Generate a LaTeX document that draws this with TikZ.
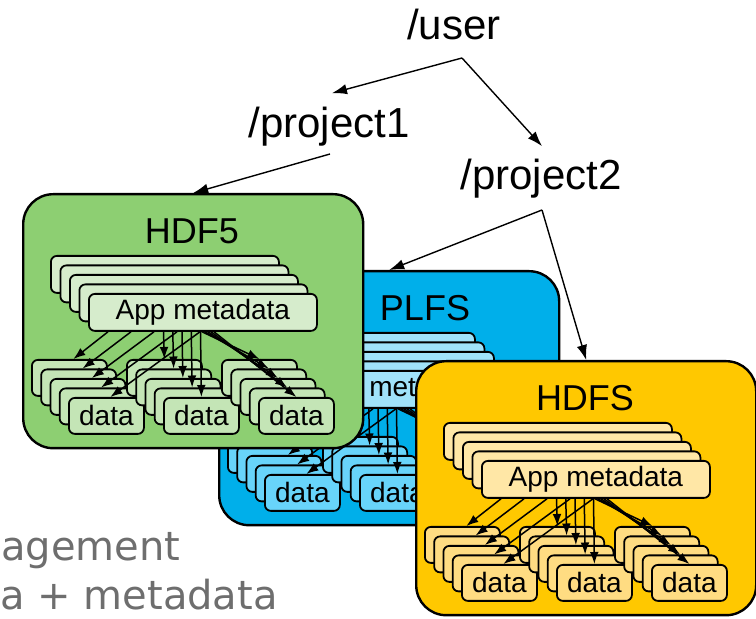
\documentclass[tikz,border=0pt]{standalone}
\usepackage{fontspec}
\setmainfont{Liberation Sans}
\newfontfamily\notefont{DejaVu Sans}
\usepackage{xcolor}
\usetikzlibrary{arrows.meta, positioning, calc}

\definecolor{PanelGreen}{RGB}{141,207,114}
\definecolor{MetaGreen}{RGB}{214,236,204}
\definecolor{DataGreen}{RGB}{196,229,182}
\definecolor{PanelBlue}{RGB}{0,175,234}
\definecolor{MetaBlue}{RGB}{160,226,250}
\definecolor{DataBlue}{RGB}{104,212,250}
\definecolor{PanelGold}{RGB}{255,200,0}
\definecolor{MetaGold}{RGB}{255,231,166}
\definecolor{DataGold}{RGB}{255,220,130}
\definecolor{NoteGray}{RGB}{110,110,110}

\tikzset{
  panelbox/.style={draw=black, line width=1.2pt, rounded corners=15pt,
        minimum width=170pt, minimum height=127pt, inner sep=0pt, anchor=north west},
  stackbox/.style={draw=black, line width=0.9pt, rounded corners=3pt,
        inner sep=0pt, anchor=north west, font=\fontsize{14}{16}\selectfont},
  mdbox/.style={stackbox, minimum width=114pt, minimum height=18.5pt},
  databox/.style={stackbox, minimum width=37.5pt, minimum height=18pt},
  linkarrow/.style={-{Latex[length=6pt, width=4.4pt]}, line width=0.75pt},
  patharrow/.style={-{Latex[length=7.5pt, width=5.2pt]}, line width=0.7pt},
  dirlabel/.style={inner sep=0pt, anchor=base, font=\fontsize{21}{24}\selectfont},
  titlelabel/.style={inner sep=0pt, font=\fontsize{18}{20}\selectfont},
  notelabel/.style={inner sep=0pt, anchor=base west, text=NoteGray,
        font=\notefont\fontsize{20}{23}\selectfont}
}

\begin{document}
\begin{tikzpicture}[x=0.5pt, y=-0.5pt]
  \useasboundingbox (0,0) rectangle (756,619);
  \clip (0,0) rectangle (756,619);

  % panels, back one first
  \foreach \pn/\px/\py/\pc/\ptitle/\tx in
      {plfs/218/270/Blue/PLFS/207, hdf/22/193/Green/HDF5/170, hdfs/415/360/Gold/HDFS/170}
  {
    \node[panelbox, fill=Panel\pc] (\pn) at (\px,\py) {};
    \node[titlelabel] (\pn-title) at ($(\pn.north west)+(\tx,38)$) {\ptitle};
    \foreach \k in {0,...,4}
      \node[mdbox, fill=Meta\pc] (\pn-md\k) at ($(\pn.north west)+(28+9.5*\k,62+9.5*\k)$)
        {\ifnum\k=4 App metadata\fi};
    \foreach \g in {0,1,2}
      \foreach \k in {0,...,4}
        \node[databox, fill=Data\pc] (\pn-d\g\k) at ($(\pn.north west)+(9+95*\g+9.25*\k,166+9.5*\k)$)
          {\ifnum\k=4 data\fi};
    \foreach \k in {0,...,4} {
      \draw[linkarrow] ($(\pn-md4.south west)+(20+23*\k,0)$) -- ($(\pn-d0\k.north)+(4,0)$);
      \draw[linkarrow] ($(\pn-md4.south west)+(75.5+9.25*\k,0)$) -- (\pn-d1\k.north);
      \draw[linkarrow] ($(\pn-md4.south west)+(114+3*\k,0)$) -- (\pn-d2\k.north);
    }
  }

  % directory tree
  \node[dirlabel] (user) at (454,40) {/user};
  \node[dirlabel] (proj1) at (329,138) {/project1};
  \node[dirlabel] (proj2) at (541,190) {/project2};

  \draw[patharrow] ($(user.base)+(8,18)$) -- ($(proj1.north)+(3,-14)$);
  \draw[patharrow] ($(user.base)+(8,18)$) -- ($(proj2.north)+(1,-13)$);
  \draw[patharrow] ($(proj1.base)+(1,16)$) -- (hdf.north);
  \draw[patharrow] ($(proj2.base)+(1,20)$) -- (plfs.north);
  \draw[patharrow] ($(proj2.base)+(1,20)$) -- (hdfs.north);

  \node[notelabel] (note1) at (1,561) {agement};
  \node[notelabel] (note2) at (0,610) {a + metadata};
\end{tikzpicture}
\end{document}
